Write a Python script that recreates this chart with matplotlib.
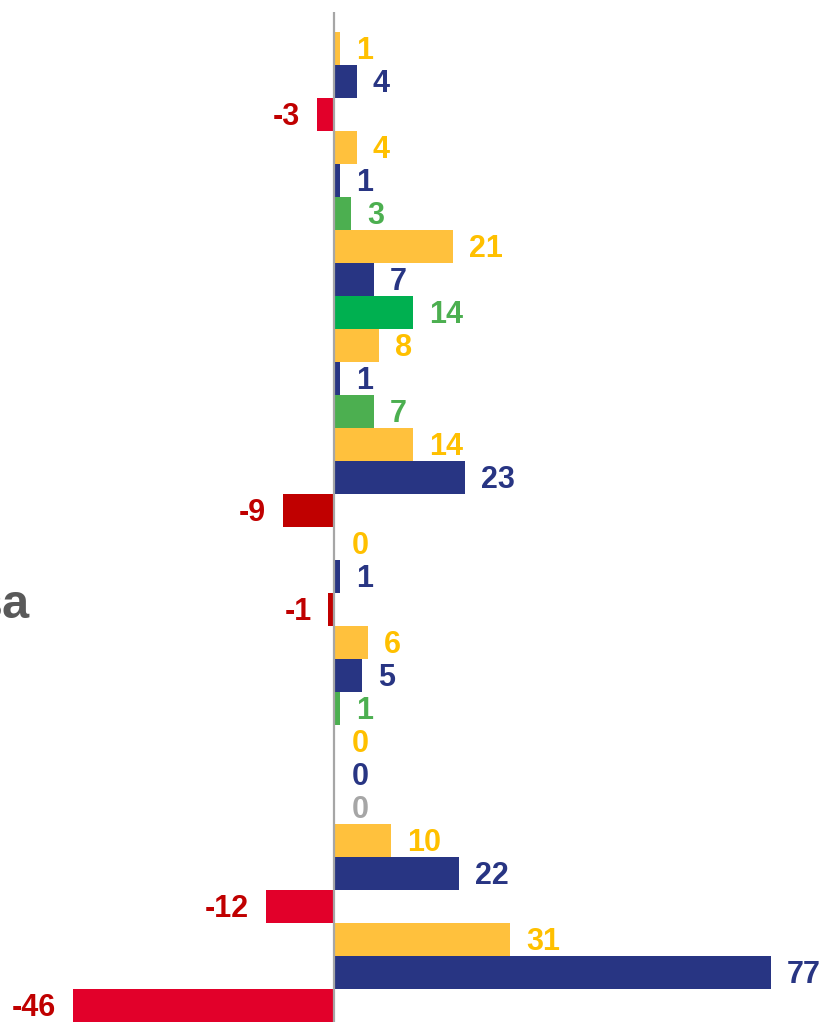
import matplotlib
matplotlib.use('Agg')
import matplotlib.pyplot as plt

# values, top to bottom
values = [1, 4, -3, 4, 1, 3, 21, 7, 14, 8, 1, 7, 14, 23, -9,
          0, 1, -1, 6, 5, 1, 0, 0, 0, 10, 22, -12, 31, 77, -46]
# which series each row belongs to
series = ['y', 'n', 'r', 'y', 'n', 'g', 'y', 'n', 'g2', 'y', 'n', 'g', 'y', 'n', 'dr',
          'y', 'n', 'dr', 'y', 'n', 'g', 'y', 'n', 'k', 'y', 'n', 'r', 'y', 'n', 'r']
side_label = 'Москва'

bar_col = {'y': '#FFC13D', 'n': '#283583', 'r': '#E2002A', 'dr': '#C00000',
           'g': '#4CAF50', 'g2': '#00B050', 'k': '#A6A6A6'}
txt_col = {'y': '#FFC000', 'n': '#283583', 'r': '#C00000', 'dr': '#C00000',
           'g': '#4CAF50', 'g2': '#4CAF50', 'k': '#A6A6A6'}

plt.rcParams['font.family'] = ['Liberation Sans', 'DejaVu Sans']

fig = plt.figure(figsize=(8.25, 10.22), dpi=100)
ax = fig.add_axes([0, 0, 1, 1])

ypos = list(range(len(values)))
ax.barh(ypos, values, height=1.0, color=[bar_col[s] for s in series], zorder=2)

fs = 22
cap = 0.716 * fs
for y, v, s in zip(ypos, values, series):
    if v < 0:
        ax.annotate(str(v), (v, y), xytext=(-12, -cap / 2), textcoords='offset points',
                    ha='right', va='baseline', fontsize=fs, fontweight='bold', color=txt_col[s])
    else:
        off = 13 if v == 0 else 11.5
        ax.annotate(str(v), (v, y), xytext=(off, -cap / 2), textcoords='offset points',
                    ha='left', va='baseline', fontsize=fs, fontweight='bold', color=txt_col[s])

# zero axis
ax.vlines(0, -1.1, len(values) - 0.5, color='#A6A6A6', lw=1.6, zorder=3)

# category label, cut off at the left edge like in the source
ax.text(-53.5, 17.26, side_label, ha='right', va='baseline', fontsize=35,
        fontweight='bold', color='#595959')

ax.set_xlim(-58.85, 86.5)
ax.set_ylim(len(values) - 0.5, -1.47)
ax.axis('off')

fig.savefig('out.png', dpi=100)
